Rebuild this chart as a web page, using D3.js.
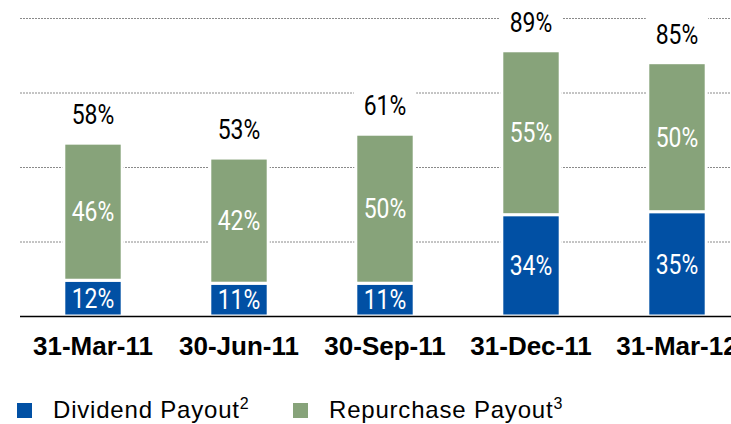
<!DOCTYPE html>
<html>
<head>
<meta charset="utf-8">
<script src="https://cdn.jsdelivr.net/npm/d3@7"></script>
<style>
  html, body { margin: 0; padding: 0; background: #fff; overflow: hidden; }
  svg { display: block; }
</style>
</head>
<body>
<svg id="chart" width="731" height="424"></svg>
<script>
const categories = ["31-Mar-11", "30-Jun-11", "30-Sep-11", "31-Dec-11", "31-Mar-12"];
const dividendPayout = [12, 11, 11, 34, 35];
const repurchasePayout = [46, 42, 50, 55, 50];
const totalPayout = [58, 53, 61, 89, 85];
const gridTicks = [25, 50, 75, 100];
const seriesNames = ["Dividend Payout", "Repurchase Payout"];
const seriesNotes = ["2", "3"];

const BLUE = "#0150a4";
const GREEN = "#87a37a";
const numFont = "Roboto, 'Liberation Sans Narrow', 'DejaVu Sans Condensed', sans-serif";
const labFont = "'Liberation Sans', Arial, sans-serif";
const NARROW = 0.85;

const svg = d3.select("#chart");
const x = d3.scaleBand().domain(categories).range([20, 750]).paddingInner(0.6).paddingOuter(0.3);
const y = d3.scaleLinear().domain([0, 100]).range([316, 18]);

// gridlines
svg.append("g").selectAll("line").data(gridTicks).join("line")
  .attr("x1", 20).attr("x2", 731)
  .attr("y1", d => y(d) + 0.5).attr("y2", d => y(d) + 0.5)
  .attr("stroke", "#8a8a8a").attr("stroke-width", 1)
  .attr("stroke-dasharray", "2,1");

// bars
const data = categories.map((c, i) => ({ c, div: dividendPayout[i], rep: repurchasePayout[i], tot: totalPayout[i] }));
const g = svg.append("g");
g.selectAll("rect.div").data(data).join("rect").attr("class", "div")
  .attr("x", d => x(d.c)).attr("width", x.bandwidth())
  .attr("y", d => y(d.div)).attr("height", d => y(0) - y(d.div))
  .attr("fill", BLUE).attr("stroke", "#fff").attr("stroke-width", 3);
g.selectAll("rect.rep").data(data).join("rect").attr("class", "rep")
  .attr("x", d => x(d.c)).attr("width", x.bandwidth())
  .attr("y", d => y(d.div + d.rep)).attr("height", d => y(d.div) - y(d.div + d.rep))
  .attr("fill", GREEN).attr("stroke", "#fff").attr("stroke-width", 3);

// inner labels (condensed)
function inner(valKey, lo, hi) {
  g.selectAll("text." + valKey).data(data).join("text").attr("class", valKey)
    .attr("transform", d => `translate(${x(d.c) + x.bandwidth() / 2},${(y(lo(d)) + y(hi(d))) / 2}) scale(${NARROW},1)`)
    .attr("dy", "0.36em")
    .attr("text-anchor", "middle")
    .attr("fill", "#fff")
    .style("font-family", numFont).style("font-size", "27px")
    .text(d => d[valKey] + "%");
}
inner("div", d => 0, d => d.div);
inner("rep", d => d.div, d => d.div + d.rep);

// total labels with white backing
const tl = svg.append("g");
tl.selectAll("rect").data(data).join("rect")
  .attr("x", d => x(d.c) - 2).attr("width", x.bandwidth() + 4)
  .attr("y", d => y(d.tot) - 19 - 30).attr("height", 34)
  .attr("fill", "#fff");
tl.selectAll("text").data(data).join("text")
  .attr("transform", d => `translate(${x(d.c) + x.bandwidth() / 2},${y(d.tot) - 19}) scale(${NARROW},1)`)
  .attr("text-anchor", "middle")
  .attr("fill", "#000")
  .style("font-family", numFont).style("font-size", "27px")
  .text(d => d.tot + "%");

// x axis
const xAxis = d3.axisBottom(x).tickSize(0).tickPadding(0);
const ax = svg.append("g").attr("transform", `translate(0,${y(0)})`).call(xAxis);
ax.select(".domain").remove();
ax.append("line").attr("x1", 20).attr("x2", 731).attr("y1", 0.5).attr("y2", 0.5)
  .attr("stroke", "#000").attr("stroke-width", 1.6);
ax.selectAll(".tick text")
  .attr("y", 39).attr("dy", 0)
  .attr("fill", "#000")
  .style("font-family", labFont).style("font-weight", "bold").style("font-size", "26px");

// legend
const legend = svg.append("g");
const legX = [17, 293];
const colors = [BLUE, GREEN];
seriesNames.forEach((name, i) => {
  legend.append("rect").attr("x", legX[i]).attr("y", 403).attr("width", 15).attr("height", 15).attr("fill", colors[i]);
  const t = legend.append("text").attr("x", legX[i] + 36).attr("y", 418)
    .attr("fill", "#000")
    .style("font-family", labFont).style("font-size", "24px");
  t.append("tspan").style("letter-spacing", "0.8px").text(name);
  t.append("tspan").attr("dy", -9).style("font-size", "16px").text(seriesNotes[i]);
});
</script>
</body>
</html>
